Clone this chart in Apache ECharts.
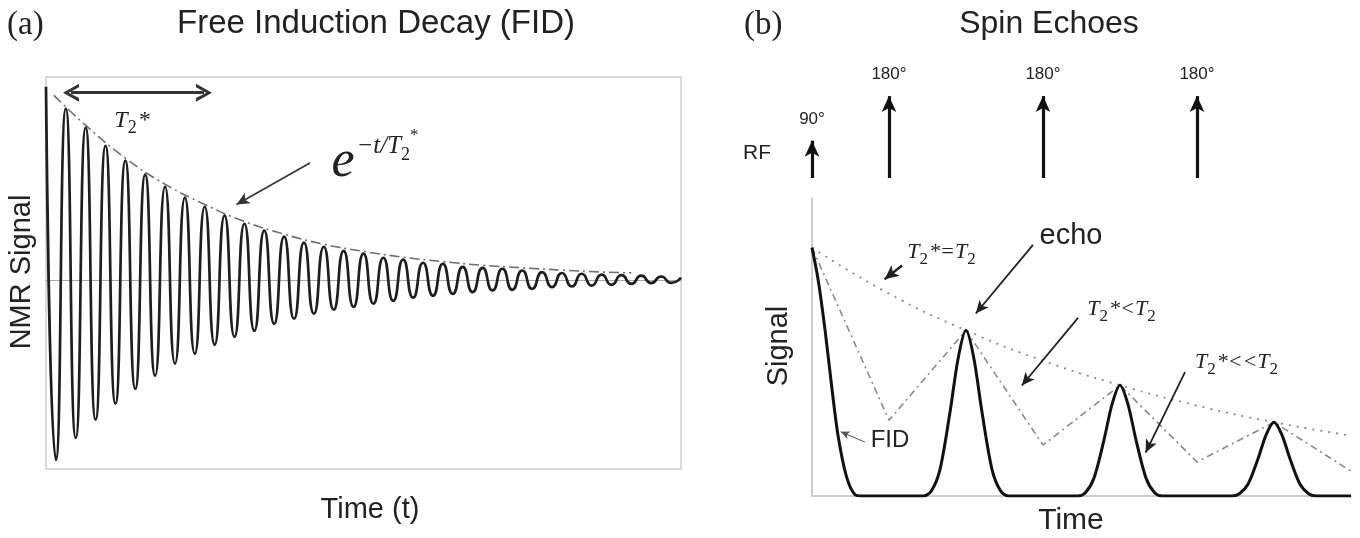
<!DOCTYPE html>
<html>
<head>
<meta charset="utf-8">
<script src="https://cdn.jsdelivr.net/npm/echarts@6/dist/echarts.min.js"></script>
<style>
html, body { margin: 0; padding: 0; background: #fff; }
#main { width: 1360px; height: 538px; }
</style>
</head>
<body>
<div id="main"></div>
<script>
// (a) free induction decay: peaks (+) and troughs (-) of the oscillation
var fidTime = [0, 0.5, 1, 1.5, 2, 2.5, 3, 3.5, 4, 4.5, 5, 5.5, 6, 6.5, 7, 7.5, 8, 8.5, 9, 9.5,
    10, 10.5, 11, 11.5, 12, 12.5, 13, 13.5, 14, 14.5, 15, 15.5, 16, 16.5, 17, 17.5, 18, 18.5, 19, 19.5,
    20, 20.5, 21, 21.5, 22, 22.5, 23, 23.5, 24, 24.5, 25, 25.5, 26, 26.5, 27, 27.5, 28, 28.5, 29, 29.5,
    30, 30.5, 31, 31.5, 32];
var fidSignal = [1.0, -0.933, 0.886, -0.819, 0.788, -0.725, 0.694, -0.642, 0.617, -0.565,
    0.544, -0.497, 0.482, -0.435, 0.425, -0.383, 0.378, -0.337, 0.332, -0.295,
    0.290, -0.264, 0.254, -0.228, 0.223, -0.202, 0.192, -0.176, 0.171, -0.155,
    0.150, -0.140, 0.135, -0.124, 0.114, -0.109, 0.104, -0.093, 0.088, -0.083,
    0.083, -0.073, 0.067, -0.064, 0.062, -0.055, 0.057, -0.052, 0.048, -0.047,
    0.040, -0.038, 0.035, -0.035, 0.031, -0.030, 0.027, -0.026, 0.024, -0.021,
    0.021, -0.017, 0.017, -0.016, 0.012];
// dash-dot envelope e^(-t/T2*)
var envTime = [0.4, 2, 4, 6, 8, 10, 12, 14, 16, 18, 20, 22, 24, 26, 28, 29.5];
var envSignal = [0.955, 0.80, 0.63, 0.495, 0.39, 0.302, 0.236, 0.184, 0.147, 0.117, 0.094, 0.075, 0.062, 0.05, 0.04, 0.036];

// (b) spin echoes: RF pulses
var rfTime = [0, 1, 3, 5];
var rfHeight = [0.41, 0.9, 0.9, 0.9];
var rfLabel = ['90°', '180°', '180°', '180°'];

// solid signal: FID and the three echoes
var echoTime = [0, 0.08, 0.17, 0.26, 0.34, 0.45, 0.56, 0.65,
    1.45, 1.55, 1.66, 1.79, 1.9, 2, 2.1, 2.21, 2.34, 2.45, 2.55,
    3.45, 3.55, 3.66, 3.79, 3.9, 4, 4.1, 4.21, 4.34, 4.45, 4.55,
    5.45, 5.55, 5.66, 5.79, 5.9, 6, 6.1, 6.21, 6.34, 6.45, 6.55, 7];
var echoSignal = [1.0, 0.87, 0.667, 0.43, 0.24, 0.076, 0.005, 0,
    0, 0.02, 0.104, 0.333, 0.558, 0.667, 0.558, 0.333, 0.104, 0.02, 0,
    0, 0.013, 0.07, 0.223, 0.373, 0.446, 0.373, 0.223, 0.07, 0.013, 0,
    0, 0.009, 0.046, 0.148, 0.248, 0.297, 0.248, 0.148, 0.046, 0.009, 0, 0];

// T2* = T2 (dotted) and T2* < T2 (dashed)
var t2Time = [0, 1, 2, 3, 4, 5, 6, 7];
var t2Signal = [1.0, 0.815, 0.667, 0.545, 0.446, 0.364, 0.297, 0.243];
var starTime = [0, 1, 2, 3, 4, 5, 6, 7];
var starSignal = [1.0, 0.305, 0.667, 0.205, 0.446, 0.137, 0.297, 0.10];

var zip = function (xs, ys) {
    return xs.map(function (x, i) { return [x, ys[i]]; });
};

var SANS = 'Liberation Sans';
var SERIF = 'Liberation Serif';
var chevron = 'path://M0,20 L10,0 L20,20 L16,20 L10,7 L4,20 Z';

var serifRich = function (size) {
    return {
        t: { fontFamily: SERIF, fontStyle: 'italic', fontSize: size, color: '#222',
             verticalAlign: 'bottom', padding: [0, 0, Math.round(size * 0.22), 0] },
        s: { fontFamily: SERIF, fontSize: Math.round(size * 0.75), color: '#222',
             verticalAlign: 'bottom', padding: [0, 1, 0, 0] }
    };
};

var label = function (text, x, y, size, opts) {
    opts = opts || {};
    return {
        type: 'text', x: x, y: y, rotation: opts.rotation || 0,
        style: {
            text: text, fontFamily: opts.family || SANS, fontSize: size,
            fontStyle: opts.italic ? 'italic' : 'normal', fill: opts.color || '#222',
            rich: opts.rich,
            align: opts.align || 'center', verticalAlign: 'middle',
            textAlign: opts.align || 'center', textVerticalAlign: 'middle'
        }
    };
};

var arrowLine = function (from, to, size, width, color) {
    return [
        { coord: from, symbol: 'none', lineStyle: { width: width, color: color, type: 'solid' } },
        { coord: to, symbol: 'arrow', symbolSize: size }
    ];
};

var chart = echarts.init(document.getElementById('main'));

var option = {
    backgroundColor: '#fff',
    animation: false,
    grid: [
        { left: 46, top: 77, width: 635, height: 392, show: true, borderColor: '#cfcfcf', borderWidth: 1.5 },
        { left: 812, top: 87, width: 539, height: 91 },
        { left: 812, top: 198, width: 539, height: 298 }
    ],
    xAxis: [
        { gridIndex: 0, type: 'value', min: 0, max: 32,
          axisLine: { show: true, onZero: true, lineStyle: { color: '#a8a8a8', width: 1 } },
          axisTick: { show: false }, axisLabel: { show: false }, splitLine: { show: false } },
        { gridIndex: 1, type: 'value', min: 0, max: 7, show: false },
        { gridIndex: 2, type: 'value', min: 0, max: 7,
          axisLine: { show: true, onZero: false, lineStyle: { color: '#bdbdbd', width: 1.5 } },
          axisTick: { show: false }, axisLabel: { show: false }, splitLine: { show: false } }
    ],
    yAxis: [
        { gridIndex: 0, type: 'value', min: -0.98, max: 1.05, show: false },
        { gridIndex: 1, type: 'value', min: 0, max: 1, show: false },
        { gridIndex: 2, type: 'value', min: 0, max: 1.2,
          axisLine: { show: true, onZero: false, lineStyle: { color: '#bdbdbd', width: 1.5 } },
          axisTick: { show: false }, axisLabel: { show: false }, splitLine: { show: false } }
    ],
    series: [
        {
            name: 'envelope', type: 'line', xAxisIndex: 0, yAxisIndex: 0,
            data: zip(envTime, envSignal), smooth: true, showSymbol: false,
            lineStyle: { color: '#6f6f6f', width: 1.6, type: [10, 4, 2, 4] },
            markLine: {
                silent: true, animation: false, label: { show: false },
                data: [
                    [
                        { coord: [1.26, 0.969], symbol: chevron, symbolSize: [18, 16],
                          lineStyle: { width: 3, color: '#333', type: 'solid' } },
                        { coord: [7.96, 0.969], symbol: chevron, symbolSize: [18, 16] }
                    ],
                    arrowLine([13.3, 0.605], [9.6, 0.39], [9, 13], 1.6, '#333')
                ]
            }
        },
        {
            name: 'FID', type: 'line', xAxisIndex: 0, yAxisIndex: 0,
            data: zip(fidTime, fidSignal), smooth: 0.62, showSymbol: false,
            lineStyle: { color: '#1e1e1e', width: 2.7 }
        },
        {
            name: 'RF', type: 'line', xAxisIndex: 1, yAxisIndex: 1,
            data: zip(rfTime, [0, 0, 0, 0]), showSymbol: false,
            lineStyle: { opacity: 0 },
            markLine: {
                silent: true, animation: false,
                symbol: ['none', 'arrow'], symbolSize: [11, 16],
                lineStyle: { color: '#111', width: 3.2, type: 'solid' },
                label: { show: true, position: 'end', distance: 13, fontFamily: SANS, fontSize: 17, color: '#222',
                         formatter: function (p) { return p.name; } },
                data: rfTime.map(function (t, i) {
                    return [{ coord: [t, 0], name: rfLabel[i] }, { coord: [t, rfHeight[i]] }];
                })
            }
        },
        {
            name: 'T2*=T2', type: 'line', xAxisIndex: 2, yAxisIndex: 2,
            data: zip(t2Time, t2Signal), smooth: true, showSymbol: false,
            lineStyle: { color: '#8a8a8a', width: 1.8, type: [2, 6] }
        },
        {
            name: 'T2*<T2', type: 'line', xAxisIndex: 2, yAxisIndex: 2,
            data: zip(starTime, starSignal), showSymbol: false,
            lineStyle: { color: '#8a8a8a', width: 1.6, type: [7, 4, 2, 4] }
        },
        {
            name: 'echo', type: 'line', xAxisIndex: 2, yAxisIndex: 2,
            data: zip(echoTime, echoSignal), smooth: 0.3, showSymbol: false,
            lineStyle: { color: '#111', width: 3 },
            markLine: {
                silent: true, animation: false, label: { show: false },
                data: [
                    arrowLine([1.17, 0.928], [0.943, 0.873], [10, 14], 2.4, '#222'),
                    arrowLine([2.87, 1.011], [2.127, 0.735], [9, 13], 1.8, '#222'),
                    arrowLine([3.455, 0.717], [2.725, 0.445], [9, 13], 1.8, '#222'),
                    arrowLine([4.844, 0.499], [4.333, 0.175], [9, 13], 1.8, '#222'),
                    arrowLine([0.688, 0.217], [0.373, 0.259], [6, 9], 1, '#555')
                ]
            }
        }
    ],
    graphic: [
        label('(a)', 7, 25, 33, { family: SERIF, align: 'left' }),
        label('Free Induction Decay (FID)', 376, 24, 33),
        label('(b)', 744, 25, 33, { family: SERIF, align: 'left' }),
        label('Spin Echoes', 1049, 24, 32),
        label('NMR Signal', 22, 272, 29, { rotation: Math.PI / 2 }),
        label('Time (t)', 370, 510, 29),
        label('Signal', 779, 346, 29, { rotation: Math.PI / 2 }),
        label('Time', 1071, 521, 30),
        label('RF', 757, 153, 21),
        label('echo', 1071, 236, 29),
        label('FID', 890, 440, 24),
        label('{t|T}{s|2}{t|*}', 132, 123, 24, { rich: serifRich(24) }),
        label('{t|T}{s|2}{t|*=T}{s|2}', 942, 255, 22, { rich: serifRich(22) }),
        label('{t|T}{s|2}{t|*<T}{s|2}', 1122, 312, 22, { rich: serifRich(22) }),
        label('{t|T}{s|2}{t|*<<T}{s|2}', 1237, 365, 22, { rich: serifRich(22) }),
        label('{e|e}{x|−t/T}{xs|2}{xa|*}', 375, 158, 48, {
            rich: {
                e: { fontFamily: SERIF, fontStyle: 'italic', fontSize: 52, color: '#222', verticalAlign: 'bottom', padding: [0, 2, 0, 0] },
                x: { fontFamily: SERIF, fontStyle: 'italic', fontSize: 25, color: '#222', verticalAlign: 'bottom', padding: [0, 0, 30, 0] },
                xs: { fontFamily: SERIF, fontSize: 18, color: '#222', verticalAlign: 'bottom', padding: [0, 0, 24, 0] },
                xa: { fontFamily: SERIF, fontSize: 17, color: '#222', verticalAlign: 'bottom', padding: [0, 0, 44, 0] }
            }
        })
    ]
};

chart.setOption(option);
</script>
</body>
</html>
